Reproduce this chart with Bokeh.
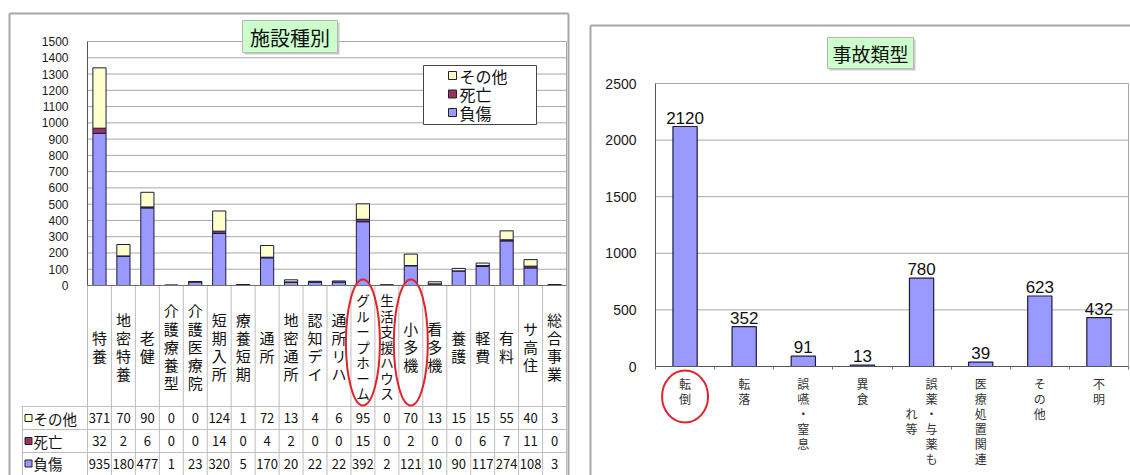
from bokeh.plotting import figure
from bokeh.layouts import row
from bokeh.models import Range1d, LinearAxis, FixedTicker, ColumnDataSource
from bokeh.core.properties import value
from bokeh.embed import file_html
from bokeh.resources import INLINE

# ---------------- data: 施設種別 ----------------
facilities = ["特養", "地密特養", "老健", "介護療養型", "介護医療院", "短期入所", "療養短期",
              "通所", "地密通所", "認知デイ", "通所リハ", "グループホーム", "生活支援ハウス",
              "小多機", "看多機", "養護", "軽費", "有料", "サ高住", "総合事業"]
other = [371, 70, 90, 0, 0, 124, 1, 72, 13, 4, 6, 95, 0, 70, 13, 15, 15, 55, 40, 3]
death = [32, 2, 6, 0, 0, 14, 0, 4, 2, 0, 0, 15, 0, 2, 0, 0, 6, 7, 11, 0]
injury = [935, 180, 477, 1, 23, 320, 5, 170, 20, 22, 22, 392, 2, 121, 10, 90, 117, 274, 108, 3]
series_names = ["その他", "死亡", "負傷"]
facility_ticks = [0, 100, 200, 300, 400, 500, 600, 700, 800, 900, 1000,
                  1100, 1200, 1300, 1400, 1500]
highlight_facilities = ["グループホーム", "小多機"]

# ---------------- data: 事故類型 ----------------
accident_types = ["転倒", "転落", "誤嚥・窒息", "異食", "誤薬・与薬もれ等", "医療処置関連", "その他", "不明"]
accident_counts = [2120, 352, 91, 13, 780, 39, 623, 432]
accident_ticks = [0, 500, 1000, 1500, 2000, 2500]
highlight_types = ["転倒"]

# ---------------- styles ----------------
SERIES_COLORS = {"その他": "#FFFFCC", "死亡": "#993366", "負傷": "#9999FF"}
BAR_LINE = "#1c1c3c"
GRID = "#a8a8a8"
PANEL_LINE = "#a8a8a8"
TABLE_LINE = "#bdbdbd"
RED = "#e0242c"
JP = value("Noto Sans CJK JP")
LAT = value("Liberation Sans")
H = 475


def bare_figure(w, xr, yr):
    p = figure(width=w, height=H, x_range=xr, y_range=yr, title=None,
               x_axis_location=None, y_axis_location=None,
               toolbar_location=None, output_backend="svg")
    p.min_border = 0
    p.min_border_left = p.min_border_right = p.min_border_top = p.min_border_bottom = 0
    p.outline_line_color = None
    p.background_fill_color = "white"
    p.border_fill_color = "white"
    p.grid.visible = False
    return p


def style_axis(ax, size, standoff):
    ax.major_tick_line_color = None
    ax.minor_tick_line_color = None
    ax.major_label_standoff = standoff
    ax.major_label_text_font = "Liberation Sans"
    ax.major_label_text_font_size = size
    ax.major_label_text_color = "#1a1a1a"
    ax.axis_line_color = "#555555"
    ax.axis_line_width = 1


# =============== left panel: 施設種別 ===============
LW = 580
L_X0, L_X1 = 87, 566           # plot area left/right (px)
L_Y0, L_YTOP = 285, 41         # value 0 and top tick (px)
NF = len(facilities)
L_COLW = (L_X1 - L_X0) / NF
L_PPU = (L_Y0 - L_YTOP) / facility_ticks[-1]


def lx(px):
    return (px - L_X0) / L_COLW


def ly(py):
    return (L_Y0 - py) / L_PPU


p1 = bare_figure(LW, Range1d(lx(0), lx(LW)), Range1d(ly(H), ly(0)))

# outer panel frame
p1.segment(x0=[lx(9), lx(9), lx(568)], y0=[ly(13), ly(13), ly(13)],
           x1=[lx(568), lx(9), lx(568)], y1=[ly(13), ly(H), ly(H)],
           line_color=PANEL_LINE, line_width=2)

# horizontal gridlines + right border of plot area
gvals = facility_ticks[1:]
p1.segment(x0=0, x1=NF, y0=gvals, y1=gvals, line_color=GRID, line_width=1)
p1.segment(x0=NF, x1=NF, y0=0, y1=facility_ticks[-1], line_color=GRID, line_width=1)

# data table grid below the plot area
row_tops = [406, 429, 452]
row_mids = [417.5, 440.5, 463]
col_edges = list(range(NF + 1))
p1.segment(x0=col_edges, x1=col_edges, y0=0, y1=ly(H), line_color=TABLE_LINE, line_width=1)
p1.segment(x0=lx(22), x1=NF, y0=[ly(v) for v in row_tops], y1=[ly(v) for v in row_tops],
           line_color=TABLE_LINE, line_width=1)
p1.segment(x0=lx(22), x1=lx(22), y0=ly(row_tops[0]), y1=ly(H), line_color=TABLE_LINE, line_width=1)

# stacked bars
xs = [i + 0.5 for i in range(NF)]
src = ColumnDataSource(dict(x=xs, 負傷=injury, 死亡=death, その他=other))
p1.vbar_stack(["負傷", "死亡", "その他"], x="x", width=0.55, source=src,
              fill_color=[SERIES_COLORS["負傷"], SERIES_COLORS["死亡"], SERIES_COLORS["その他"]],
              line_color=BAR_LINE, line_width=1)

# y axis at the plot-area edge
ax1 = LinearAxis(fixed_location=0, bounds=(0, facility_ticks[-1]),
                 ticker=FixedTicker(ticks=facility_ticks))
style_axis(ax1, "12px", 13)
p1.add_layout(ax1, "left")
p1.segment(x0=0, x1=NF, y0=0, y1=0, line_color="#707070", line_width=1)

# vertical category labels (one character per line)
cx, cy, ct = [], [], []
cx2, cy2, ct2 = [], [], []
for i, name in enumerate(facilities):
    n = len(name)
    pitch = 18 if n <= 5 else 15.5
    for k, ch in enumerate(name):
        py = 346 + (k - (n - 1) / 2) * pitch
        if n <= 5:
            cx.append(i + 0.5); cy.append(ly(py)); ct.append(ch)
        else:
            cx2.append(i + 0.5); cy2.append(ly(py)); ct2.append(ch)
p1.text(x=cx, y=cy, text=ct, text_font=JP, text_font_size="15px", text_color="#111111",
        text_align="center", text_baseline="middle")
p1.text(x=cx2, y=cy2, text=ct2, text_font=JP, text_font_size="13.5px", text_color="#111111",
        text_align="center", text_baseline="middle")

# table values and row headers
table_rows = [other, death, injury]
for r, (name, vals) in enumerate(zip(series_names, table_rows)):
    yy = ly(row_mids[r])
    p1.text(x=xs, y=yy, text=[str(v) for v in vals], text_font=JP, text_font_size="13px",
            text_color="#111111", text_align="center", text_baseline="middle")
    p1.scatter(x=[lx(28)], y=[yy], marker="square", size=7,
               fill_color=SERIES_COLORS[name], line_color="#222222", line_width=1)
    p1.text(x=[lx(33)], y=[yy], text=[name], text_font=JP, text_font_size="14.5px",
            text_color="#111111", text_align="left", text_baseline="middle")

# legend box
p1.quad(left=lx(423), right=lx(536), top=ly(65), bottom=ly(124),
        fill_color="white", line_color="#444444", line_width=1)
leg_rows = [75, 93.5, 112]
for name, py in zip(series_names, leg_rows):
    p1.scatter(x=[lx(452)], y=[ly(py)], marker="square", size=8,
               fill_color=SERIES_COLORS[name], line_color="#222222", line_width=1)
    p1.text(x=[lx(459)], y=[ly(py)], text=[name], text_font=JP, text_font_size="16px",
            text_color="#111111", text_align="left", text_baseline="middle")

# title box
p1.quad(left=lx(244), right=lx(339), top=ly(22), bottom=ly(54), fill_color="#c9c9c9", line_color=None)
p1.quad(left=lx(242), right=lx(337), top=ly(20), bottom=ly(52),
        fill_color="#ccffcc", line_color="#b5b5b5", line_width=1)
p1.text(x=[lx(289.5)], y=[ly(36.5)], text=["施設種別"], text_font=JP, text_font_size="20px",
        text_color="#111111", text_align="center", text_baseline="middle")

# highlighted categories
hx = [facilities.index(n) + 0.5 for n in highlight_facilities]
p1.ellipse(x=hx, y=ly(342), width=34 / L_COLW, height=126 / L_PPU,
           fill_color=None, line_color=RED, line_width=2)


# =============== right panel: 事故類型 ===============
RW = 550
R_OFF = LW
R_X0, R_X1 = 655 - R_OFF, 1128 - R_OFF
R_Y0, R_YTOP = 366, 83
NA = len(accident_types)
R_COLW = (R_X1 - R_X0) / NA
R_PPU = (R_Y0 - R_YTOP) / accident_ticks[-1]


def rx(px):
    return (px - R_OFF - R_X0) / R_COLW


def ry(py):
    return (R_Y0 - py) / R_PPU


p2 = bare_figure(RW, Range1d(rx(R_OFF), rx(R_OFF + RW)), Range1d(ry(H), ry(0)))

# outer panel frame
p2.segment(x0=[rx(590), rx(590)], y0=[ry(25), ry(25)], x1=[rx(1140), rx(590)], y1=[ry(25), ry(H)],
           line_color=PANEL_LINE, line_width=2)

# gridlines and plot-area border
gv2 = accident_ticks[1:]
p2.segment(x0=0, x1=NA, y0=gv2, y1=gv2, line_color=GRID, line_width=1)
p2.segment(x0=NA, x1=NA, y0=0, y1=accident_ticks[-1], line_color=GRID, line_width=1)

xa = [i + 0.5 for i in range(NA)]
p2.vbar(x=xa, top=accident_counts, width=0.41, bottom=0,
        fill_color="#9999FF", line_color=BAR_LINE, line_width=1.2)

ax2 = LinearAxis(fixed_location=0, bounds=(0, accident_ticks[-1]),
                 ticker=FixedTicker(ticks=accident_ticks))
style_axis(ax2, "14px", 13)
p2.add_layout(ax2, "left")

bx2 = LinearAxis(fixed_location=0, bounds=(0, NA), ticker=FixedTicker(ticks=list(range(NA + 1))))
bx2.major_tick_line_color = "#777777"
bx2.major_tick_out = 3
bx2.major_tick_in = 0
bx2.minor_tick_line_color = None
bx2.major_label_text_color = None
bx2.axis_line_color = "#555555"
p2.add_layout(bx2, "below")

# value labels
p2.text(x=xa, y=accident_counts, text=[str(v) for v in accident_counts], y_offset=-9,
        text_font=LAT, text_font_size="17px", text_color="#111111",
        text_align="center", text_baseline="alphabetic")

# vertical category labels, columns of six characters read right to left
ax_, ay_, at_ = [], [], []
pitch2 = 15
col_gap = 20
for i, name in enumerate(accident_types):
    cols = [name[k:k + 6] for k in range(0, len(name), 6)]
    ncol = len(cols)
    longest = max(len(c) for c in cols)
    for j, col in enumerate(cols):
        dx = ((ncol - 1) / 2 - j) * col_gap / R_COLW
        start = (longest - len(col)) / 2
        for k, ch in enumerate(col):
            py = 383 + (start + k) * pitch2
            ax_.append(i + 0.5 + dx); ay_.append(ry(py)); at_.append(ch)
p2.text(x=ax_, y=ay_, text=at_, text_font=JP, text_font_size="12px", text_color="#333333",
        text_align="center", text_baseline="middle")

# title box
p2.quad(left=rx(829), right=rx(915), top=ry(39), bottom=ry(70), fill_color="#c9c9c9", line_color=None)
p2.quad(left=rx(827), right=rx(913), top=ry(37), bottom=ry(68),
        fill_color="#ccffcc", line_color="#b5b5b5", line_width=1)
p2.text(x=[rx(870)], y=[ry(52.5)], text=["事故類型"], text_font=JP, text_font_size="19px",
        text_color="#111111", text_align="center", text_baseline="middle")

# highlighted category
hx2 = [accident_types.index(n) + 0.5 for n in highlight_types]
p2.ellipse(x=hx2, y=ry(396), width=46 / R_COLW, height=52 / R_PPU,
           fill_color=None, line_color=RED, line_width=2)

layout = row(p1, p2)
open("out.html", "w").write(file_html(layout, INLINE))
